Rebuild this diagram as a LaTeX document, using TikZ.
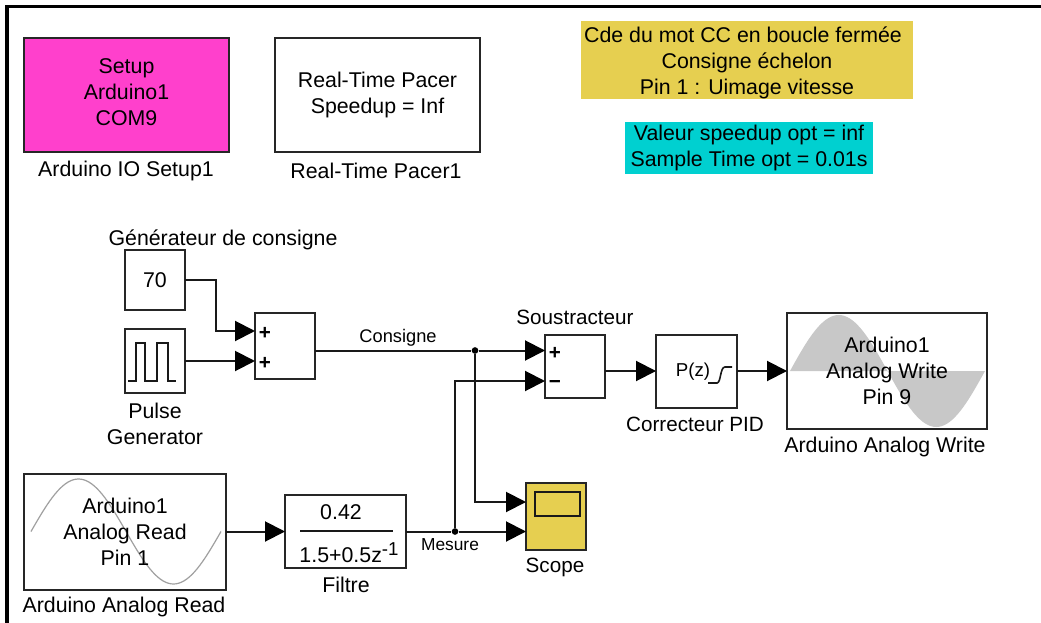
\documentclass[tikz,border=0pt]{standalone}
\usepackage{fontspec}
\setmainfont{Liberation Sans}
\usetikzlibrary{arrows.meta}
\definecolor{setupcol}{RGB}{255,64,204}
\definecolor{notecol}{RGB}{230,207,80}
\definecolor{samplecol}{RGB}{0,208,208}
\definecolor{sinecol}{RGB}{200,200,200}
\tikzset{
  block/.style 2 args={draw=black!85, line width=1.5pt, outer sep=0pt, inner sep=0pt, align=center,
    minimum width=#1*0.75pt, minimum height=#2*0.75pt},
  note/.style 2 args={fill=#2, inner sep=0pt, outer sep=0pt, align=center, minimum width=#1*0.75pt},
  txt/.style={inner sep=0pt, align=center},
  sign/.style={txt, font=\fontsize{15.5}{19.5}\selectfont\bfseries},
  wire/.style={line width=1.5pt, black!90},
  sig/.style={wire, -{Triangle[length=15pt,width=15pt,color=black]}},
  jdot/.style={circle, fill=black, inner sep=0pt, minimum size=5pt}
}
\begin{document}
\begin{tikzpicture}[x=0.75pt, y=-0.75pt, font=\fontsize{16}{19.5}\selectfont]
  \path[use as bounding box, fill=white] (0,0) rectangle (1041,623);
  \draw[line width=2.4pt] (7,623) -- (7,6.5) -- (1041,6.5);
  % sine waves go under the block texts
  \fill[sinecol] plot[domain=0:360, samples=73] ({790+\x/360*195},{371-56*sin(\x)}) -- cycle;
  \draw[sinecol!80!black, line width=0.9pt] plot[domain=0:360, samples=73] ({31+\x/360*190},{531.5-52.5*sin(\x)});

  \node[block={205}{114}, fill=setupcol] (setup) at (126.5,95) {};
  \node[txt] (setuptxt) at (126.5,92.5) {Setup\\Arduino1\\COM9};
  \node[block={205}{114}] (pacer) at (377.5,95) {Real-Time Pacer\\Speedup = Inf};
  \node[note={332}{notecol}, minimum height=58.5pt] (title) at (747,60) {};
  \node[txt] (titletxt) at (747,62.5) {Cde du mot CC en boucle fermée\hspace*{6pt}\\Consigne échelon\\Pin 1 : Uimage vitesse};
  \node[note={248}{samplecol}, minimum height=39pt] (sample) at (749,148) {Valeur speedup opt = inf\\Sample Time opt = 0.01s};
  \node[block={60}{60}] (const) at (155,280.5) {\raisebox{1pt}{70}};
  \node[block={60}{64}] (pulse) at (155,361) {};
  \node[block={60}{66}] (sum) at (285,346) {};
  \node[block={60}{63}] (sous) at (575,366.5) {};
  \node[block={81}{73}] (pid) at (696.5,371) {};
  \node[block={200}{116}] (write) at (887,371) {Arduino1\\Analog Write\\Pin 9};
  \node[block={202}{116}] (read) at (125,531.5) {Arduino1\\Analog Read\\Pin 1};
  \node[block={121}{73}] (filtre) at (345.5,531.5) {};
  \node[block={60}{67}, fill=notecol] (scope) at (556,516.5) {};

  \node[txt] (setuplab) at (126,171) {Arduino IO Setup1};
  \node[txt] (pacerlab) at (376,171) {Real-Time Pacer1};
  \node[txt] (constlab) at (223,240) {Générateur de consigne};
  \node[txt] (pulselab) at (155,424) {Pulse\\Generator};
  \node[txt, font=\fontsize{15.5}{19.5}\selectfont] (souslab) at (575,317) {Soustracteur};
  \node[txt, font=\fontsize{15.5}{19.5}\selectfont] (pidlab) at (695,424) {Correcteur PID};
  \node[txt] (writelab) at (885,447) {Arduino Analog Write};
  \node[txt] (readlab) at (124,607) {Arduino Analog Read};
  \node[txt] (filtrelab) at (346,585) {Filtre};
  \node[txt, font=\fontsize{15.5}{19.5}\selectfont] (scopelab) at (555,567) {Scope};
  \node[txt] (num) at (341,512) {0.42};
  \node[txt] (den) at (349,553) {1.5+0.5z\raisebox{5pt}{\fontsize{14}{16}\selectfont -1}};
  \node[txt, font=\fontsize{14}{16}\selectfont] (pz) at (693,372) {P(z)};
  \node[txt, font=\fontsize{13.7}{16}\selectfont] (consigne) at (398,338) {Consigne};
  \node[txt, font=\fontsize{13}{16}\selectfont] (mesure) at (450,544.5) {Mesure};
  \node[sign] (plusa) at (265,333) {+};
  \node[sign] (plusb) at (265,363) {+};
  \node[sign] (plusc) at (555,353) {+};
  \node[sign] (minus) at (555,384) {−};

  % little drawings inside the blocks
  \draw[wire, line width=1.2pt] (128,381) -- (136,381) -- (136,343) -- (145,343) -- (145,381) -- (157,381) -- (157,343) -- (168,343) -- (168,381) -- (176,381);
  \draw[wire, line width=1.2pt] (708,383) -- (717,383) .. controls (721,383) and (720,367) .. (725,367) -- (732,367);
  \draw[wire] (300,531) -- (393,531);
  \draw[wire, fill=notecol] (535,492) rectangle (580,516);

  \coordinate (suma) at (255,331);
  \coordinate (sumb) at (255,361);
  \coordinate (turn) at (216,331);
  \coordinate (sousa) at (545,350.5);
  \coordinate (sousb) at (545,381);
  \coordinate (scopea) at (526,502);
  \coordinate (scopeb) at (526,531.5);
  \node[jdot] (ja) at (475,350.5) {};
  \node[jdot] (jb) at (455,531.5) {};

  \draw[sig] (const.east) -| (turn) -- (suma);
  \draw[sig] (pulse.east) -- (sumb);
  \draw[sig] (sum.east |- ja) -- (ja) -- (sousa);
  \draw[sig] (ja) |- (scopea);
  \draw[sig] (jb) |- (sousb);
  \draw[sig] (read.east) -- (filtre.west);
  \draw[sig] (filtre.east) -- (jb) -- (scopeb);
  \draw[sig] (sous.east |- pid.west) -- (pid.west);
  \draw[sig] (pid.east) -- (write.west);
\end{tikzpicture}
\end{document}
